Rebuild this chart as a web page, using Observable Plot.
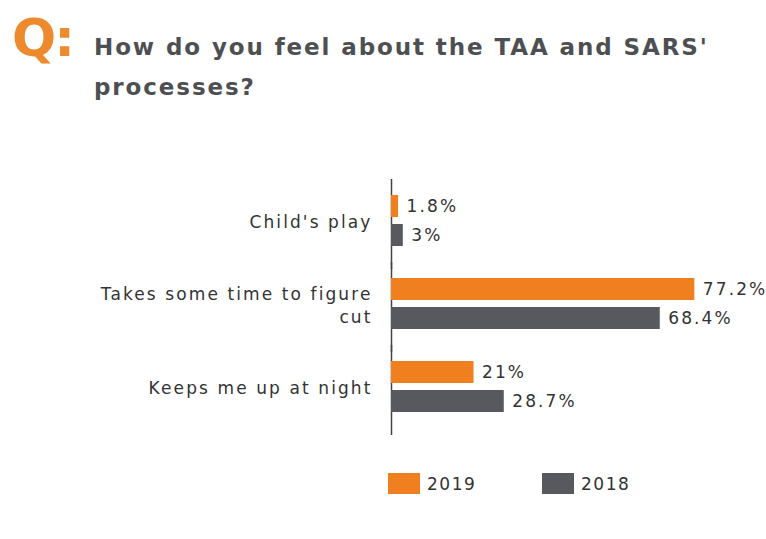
<!DOCTYPE html>
<html>
<head>
<meta charset="utf-8">
<script src="https://cdn.jsdelivr.net/npm/d3@7"></script>
<script src="https://cdn.jsdelivr.net/npm/@observablehq/plot@0.6"></script>
<style>
  html, body { margin: 0; padding: 0; background: #fff; }
  body { width: 766px; height: 539px; position: relative; overflow: hidden; font-family: "DejaVu Sans", sans-serif; }
  #q { position: absolute; left: 12px; top: 8px; font: bold 52px "DejaVu Sans", sans-serif; color: #ee8a2e; letter-spacing: -2px; }
  #title { position: absolute; left: 94px; top: 27px; width: 670px; font: bold 23px "DejaVu Sans", sans-serif; color: #4d4f52; line-height: 40px; letter-spacing: 1.9px; white-space: nowrap; }
  #chart { position: absolute; left: 0; top: 150px; }
  #legend { position: absolute; top: 473px; left: 388px; font: 17px "DejaVu Sans", sans-serif; color: #333; }
  .item { position: absolute; top: 0; display: flex; align-items: center; white-space: nowrap; letter-spacing: 1.5px; }
  .sw { width: 32px; height: 21px; margin-right: 7px; display: inline-block; }
</style>
</head>
<body>
<div id="q">Q:</div>
<div id="title">How do you feel about the TAA and SARS'<br>processes?</div>
<div id="chart"></div>
<div id="legend"></div>
<script>
const categories = ["Child's play", "Takes some time to figure\ncut", "Keeps me up at night"];
const years = ["2019", "2018"];
const values2019 = [1.8, 77.2, 21];
const values2018 = [3, 68.4, 28.7];
const labels2019 = ["1.8%", "77.2%", "21%"];
const labels2018 = ["3%", "68.4%", "28.7%"];
const colors = ["#f0801f", "#58595e"];

const data = [];
categories.forEach((c, i) => {
  data.push({category: c, year: years[0], value: values2019[i], label: labels2019[i]});
  data.push({category: c, year: years[1], value: values2018[i], label: labels2018[i]});
});

const chart = Plot.plot({
  width: 766,
  height: 300,
  marginLeft: 391,
  marginRight: 41,
  marginTop: 38,
  marginBottom: 30,
  style: {fontFamily: "DejaVu Sans, sans-serif", fontSize: "17px", color: "#333", background: "transparent", letterSpacing: "2.1px"},
  x: {domain: [0, 85], axis: null},
  y: {domain: years, axis: null, paddingInner: 0.23, paddingOuter: 0},
  fy: {domain: categories, paddingInner: 0.357, paddingOuter: 0.06, axis: null},
  color: {domain: years, range: colors},
  marks: [
    Plot.axisFy({anchor: "left", label: null, tickSize: 0, tickPadding: 19, lineHeight: 1.35, fontSize: 17, fill: "#333"}),
    Plot.ruleX([0], {stroke: "#444", strokeWidth: 1.5, insetTop: -15, insetBottom: -22}),
    Plot.barX(data, {x: "value", y: "year", fy: "category", fill: "year"}),
    Plot.text(data, {x: "value", y: "year", fy: "category", text: "label", textAnchor: "start", dx: 8, fill: "#333", fontSize: 17})
  ]
});
document.getElementById("chart").appendChild(chart);

const legend = document.getElementById("legend");
const offsets = [0, 154];
years.forEach((y, i) => {
  const it = document.createElement("div");
  it.className = "item";
  it.style.left = offsets[i] + "px";
  it.innerHTML = `<span class="sw" style="background:${colors[i]}"></span><span>${y}</span>`;
  legend.appendChild(it);
});
</script>
</body>
</html>
